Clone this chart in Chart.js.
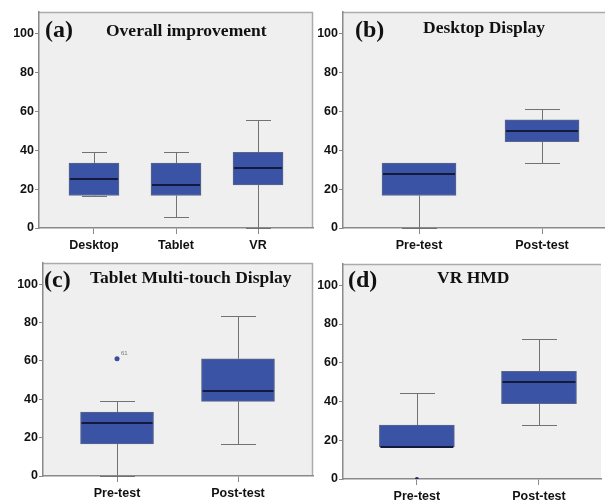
<!DOCTYPE html>
<html>
<head>
<meta charset="utf-8">
<script src="https://cdn.jsdelivr.net/npm/chart.js@4.4.0/dist/chart.umd.min.js"></script>
<style>
  body { margin: 0; background: #fff; width: 605px; height: 500px; overflow: hidden; position: relative; }
  canvas { position: absolute; }
</style>
</head>
<body>
<canvas id="chartA" width="320" height="252" style="left:0;top:0"></canvas>
<canvas id="chartB" width="300" height="252" style="left:305px;top:0"></canvas>
<canvas id="chartC" width="320" height="250" style="left:0;top:250px"></canvas>
<canvas id="chartD" width="300" height="250" style="left:305px;top:250px"></canvas>
<script>
// tick labels shared by all panels
const yTicks = [0, 20, 40, 60, 80, 100];

// (a) Overall improvement
const catsA = ['Desktop', 'Tablet', 'VR'];
const minA = [16.7, 5.6, 0];
const q1A = [16.7, 16.7, 22.2];
const medA = [25, 22.2, 30.6];
const q3A = [33.3, 33.3, 38.9];
const maxA = [38.9, 38.9, 55.6];

// (b) Desktop Display
const catsB = ['Pre-test', 'Post-test'];
const minB = [0, 33.3];
const q1B = [16.7, 44.4];
const medB = [27.8, 50];
const q3B = [33.3, 55.6];
const maxB = [33.3, 61.1];

// (c) Tablet Multi-touch Display
const catsC = ['Pre-test', 'Post-test'];
const minC = [0, 16.7];
const q1C = [16.7, 38.9];
const medC = [27.8, 44.4];
const q3C = [33.3, 61.1];
const maxC = [38.9, 83.3];
const outC = [{ x: 0, y: 61.1 }];
const outLabelsC = ['61'];

// (d) VR HMD
const catsD = ['Pre-test', 'Post-test'];
const minD = [16.7, 27.8];
const q1D = [16.7, 38.9];
const medD = [16.7, 50];
const q3D = [27.8, 55.6];
const maxD = [44.4, 72.2];
const outD = [{ x: 0, y: 0 }];
const outLabelsD = [''];

const BOX_BLUE = '#3b53a5';
const AXIS_GRAY = '#8a8a8a';

function boxPlugin(p) {
    return {
        id: 'boxes',
        beforeDraw(chart) {
            const a = chart.chartArea;
            const ctx = chart.ctx;
            ctx.save();
            ctx.fillStyle = '#efefef';
            ctx.fillRect(a.left, a.top, a.right - a.left, a.bottom - a.top);
            ctx.strokeStyle = '#ababab';
            ctx.lineWidth = 1.5;
            ctx.beginPath();
            ctx.moveTo(a.left, a.top + 0.5);
            ctx.lineTo(a.right, a.top + 0.5);
            if (p.rightBorder) {
                ctx.moveTo(a.right - 0.5, a.top);
                ctx.lineTo(a.right - 0.5, a.bottom);
            }
            ctx.stroke();
            ctx.restore();
        },
        beforeDatasetsDraw(chart) {
            const xs = chart.scales.x, ys = chart.scales.y;
            const ctx = chart.ctx;
            ctx.save();
            ctx.strokeStyle = '#727272';
            ctx.lineWidth = 1;
            p.mins.forEach(function(mn, i) {
                const x = Math.round(xs.getPixelForValue(i)) + 0.5;
                const yMin = Math.round(ys.getPixelForValue(mn)) + 0.5;
                const yMax = Math.round(ys.getPixelForValue(p.maxs[i])) + 0.5;
                const yQ1 = ys.getPixelForValue(p.q1s[i]);
                const yQ3 = ys.getPixelForValue(p.q3s[i]);
                ctx.beginPath();
                ctx.moveTo(x, yQ3); ctx.lineTo(x, yMax);
                ctx.moveTo(x, yQ1); ctx.lineTo(x, yMin);
                ctx.moveTo(x - p.cap, yMax); ctx.lineTo(x + p.cap, yMax);
                ctx.moveTo(x - p.cap, yMin); ctx.lineTo(x + p.cap, yMin);
                ctx.stroke();
            });
            ctx.restore();
        },
        afterDatasetsDraw(chart) {
            const xs = chart.scales.x, ys = chart.scales.y;
            const ctx = chart.ctx;
            ctx.save();
            // medians
            ctx.strokeStyle = '#141a3c';
            ctx.lineWidth = 2;
            p.meds.forEach(function(m, i) {
                const x = xs.getPixelForValue(i);
                const y = Math.round(ys.getPixelForValue(m));
                ctx.beginPath();
                ctx.moveTo(x - p.width / 2 + 1, y);
                ctx.lineTo(x + p.width / 2 - 1, y);
                ctx.stroke();
            });
            // outlier case labels
            ctx.fillStyle = '#777';
            ctx.font = '6px "Liberation Sans", Arial, sans-serif';
            (p.outliers || []).forEach(function(o, i) {
                const lab = p.outLabels[i];
                if (!lab) return;
                ctx.fillText(lab, xs.getPixelForValue(o.x) + 4, ys.getPixelForValue(o.y) - 4);
            });
            // panel titles
            ctx.fillStyle = '#111';
            ctx.textBaseline = 'alphabetic';
            ctx.font = 'bold 24px "Liberation Serif", "Times New Roman", serif';
            ctx.fillText(p.tag, p.tagX, 37);
            ctx.font = 'bold 17.5px "Liberation Serif", "Times New Roman", serif';
            ctx.fillText(p.title, p.titleX, p.titleY);
            ctx.restore();
        }
    };
}

function makePanel(id, p) {
    const datasets = [{
        type: 'bar',
        data: p.cats.map(function(c, i) { return { x: i, y: [p.q1s[i], p.q3s[i]] }; }),
        backgroundColor: BOX_BLUE,
        borderColor: '#5c6686',
        borderWidth: 1,
        borderSkipped: false,
        barThickness: p.width
    }];
    if (p.outliers) {
        datasets.push({
            type: 'scatter',
            data: p.outliers,
            pointRadius: p.outRadius,
            backgroundColor: p.outColor,
            borderWidth: 0
        });
    }
    return new Chart(document.getElementById(id), {
        type: 'bar',
        data: { datasets: datasets },
        options: {
            responsive: false,
            animation: false,
            devicePixelRatio: 1,
            layout: { padding: { top: p.top, right: p.right, left: 0, bottom: 0 } },
            plugins: { legend: { display: false }, tooltip: { enabled: false } },
            scales: {
                x: {
                    type: 'linear',
                    min: p.xMin,
                    max: p.xMax,
                    offset: false,
                    afterBuildTicks: function(scale) {
                        scale.ticks = p.cats.map(function(c, i) { return { value: i }; });
                    },
                    afterFit: function(scale) { scale.height = p.xHeight; },
                    ticks: {
                        autoSkip: false,
                        maxRotation: 0,
                        padding: 4,
                        color: '#111',
                        font: { family: '"Liberation Sans", Arial, sans-serif', weight: 'bold', size: 12.5 },
                        callback: function(v) { return p.cats[v]; }
                    },
                    grid: { offset: false, drawOnChartArea: false, tickLength: 6, color: AXIS_GRAY },
                    border: { color: AXIS_GRAY, width: 1.5 }
                },
                y: {
                    min: 0,
                    max: 111,
                    afterBuildTicks: function(scale) {
                        scale.ticks = yTicks.map(function(v) { return { value: v }; });
                    },
                    afterFit: function(scale) { scale.width = p.left; },
                    ticks: {
                        padding: 1,
                        color: '#111',
                        font: { family: '"Liberation Sans", Arial, sans-serif', weight: 'bold', size: 12.5 }
                    },
                    grid: { drawOnChartArea: false, tickLength: 4, color: AXIS_GRAY },
                    border: { color: AXIS_GRAY, width: 1.5 }
                }
            }
        },
        plugins: [boxPlugin(p)]
    });
}

makePanel('chartA', {
    cats: catsA, mins: minA, q1s: q1A, meds: medA, q3s: q3A, maxs: maxA,
    width: 50, cap: 12.5, left: 39, top: 12, right: 7, xHeight: 24,
    xMin: -0.67, xMax: 2.67, rightBorder: true,
    tag: '(a)', tagX: 45, title: 'Overall improvement', titleX: 106, titleY: 36
});

makePanel('chartB', {
    cats: catsB, mins: minB, q1s: q1B, meds: medB, q3s: q3B, maxs: maxB,
    width: 74, cap: 17.5, left: 38, top: 12, right: 0, xHeight: 24,
    xMin: -0.618, xMax: 1.512, rightBorder: false,
    tag: '(b)', tagX: 50, title: 'Desktop Display', titleX: 118, titleY: 33
});

makePanel('chartC', {
    cats: catsC, mins: minC, q1s: q1C, meds: medC, q3s: q3C, maxs: maxC,
    outliers: outC, outLabels: outLabelsC, outRadius: 2.5, outColor: '#3a4f9c',
    width: 73, cap: 17.5, left: 43, top: 13, right: 7, xHeight: 24,
    xMin: -0.612, xMax: 1.62, rightBorder: true,
    tag: '(c)', tagX: 44, title: 'Tablet Multi-touch Display', titleX: 90, titleY: 33
});

makePanel('chartD', {
    cats: catsD, mins: minD, q1s: q1D, meds: medD, q3s: q3D, maxs: maxD,
    outliers: outD, outLabels: outLabelsD, outRadius: 2, outColor: '#1f2b66',
    width: 75, cap: 17.5, left: 38, top: 14, right: 0, xHeight: 21,
    xMin: -0.605, xMax: 1.508, rightBorder: false,
    tag: '(d)', tagX: 43, title: 'VR HMD', titleX: 132, titleY: 33
});
</script>
</body>
</html>
